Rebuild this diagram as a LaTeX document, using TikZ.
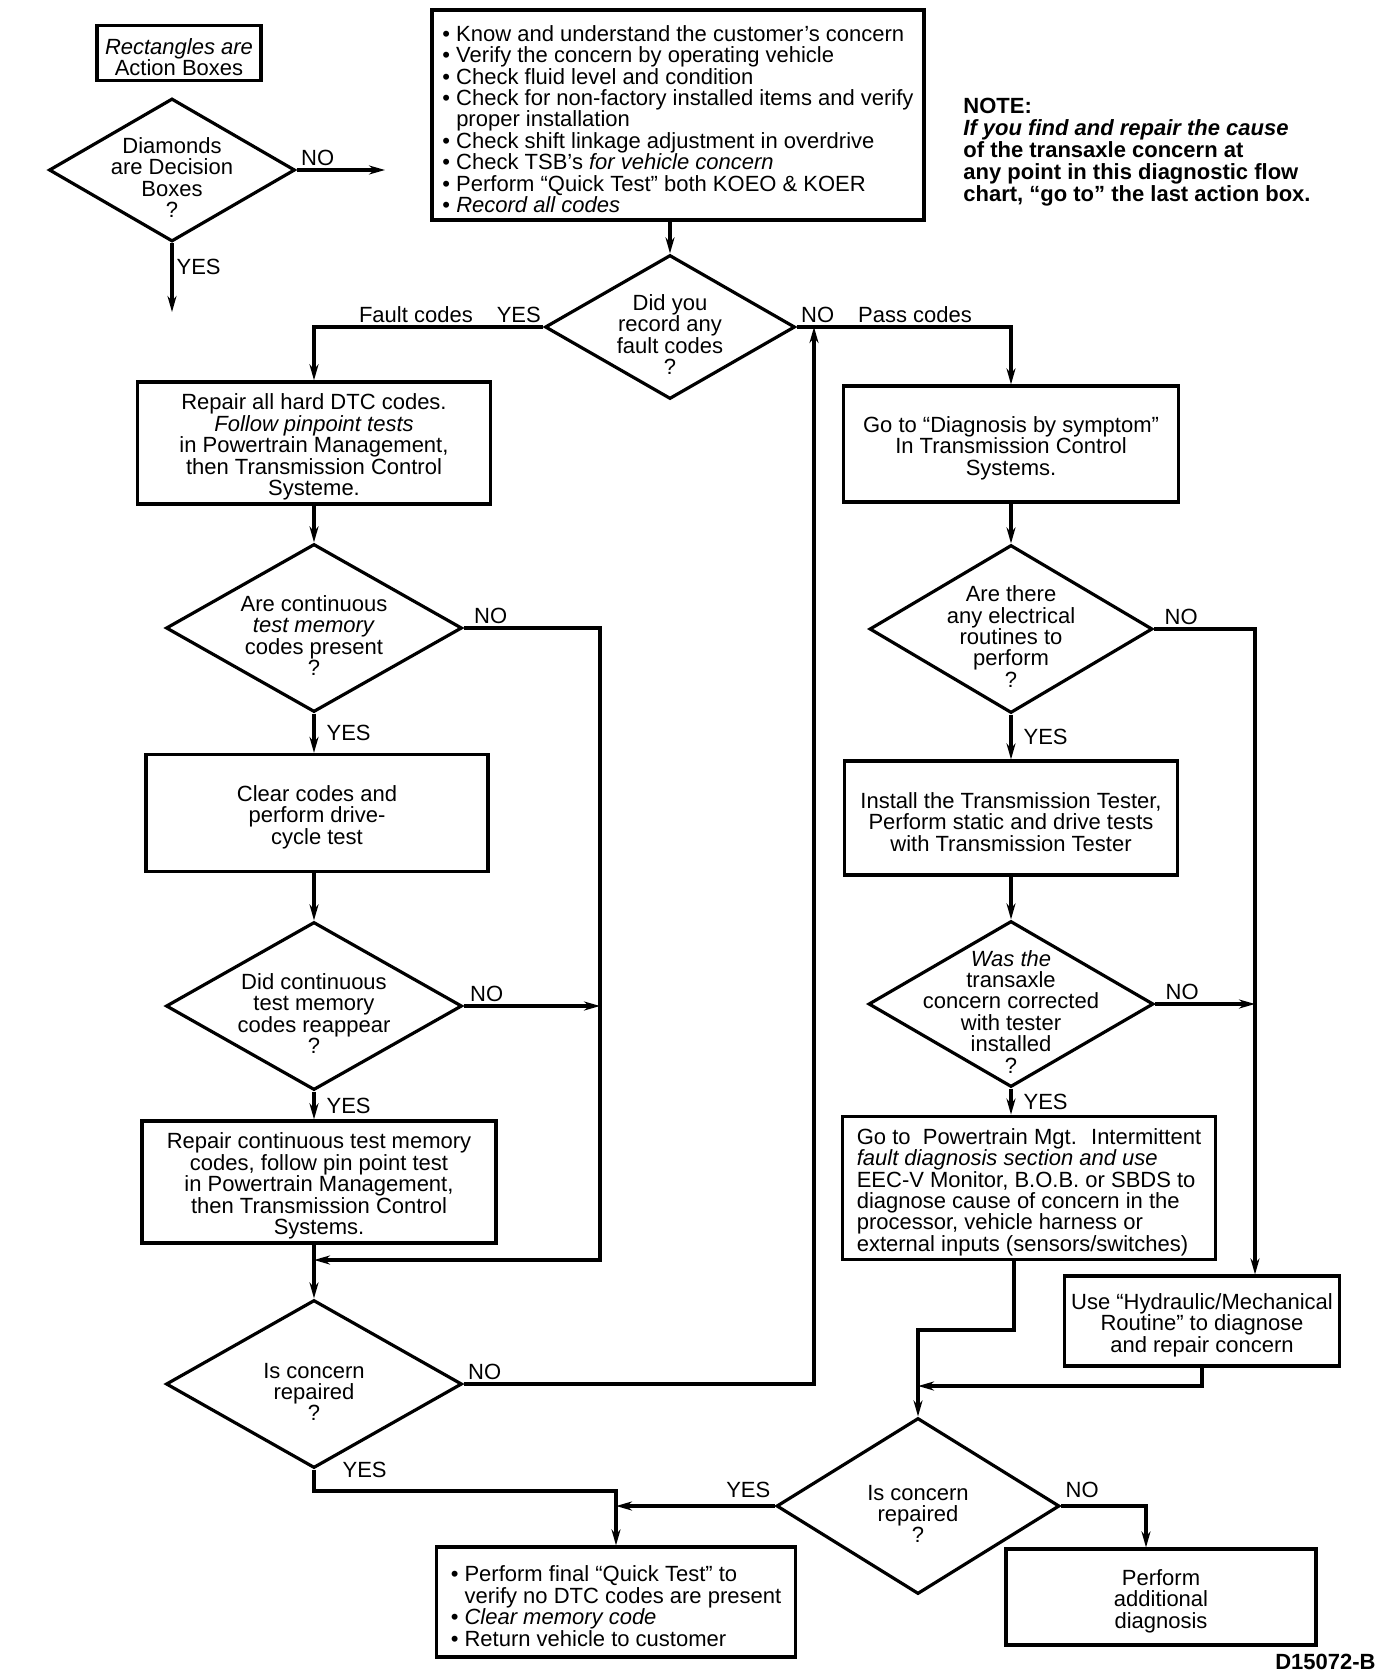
\documentclass[tikz,border=0pt]{standalone}
\usepackage{fontspec}
\setmainfont{Liberation Sans}
\usetikzlibrary{shapes, arrows, arrows.meta}
\newcommand{\dtop}{\rule{0pt}{15.5pt}}
\newcommand{\btop}{\rule{0pt}{12pt}}
\tikzstyle{statement} = [rectangle, draw=black, line width=1.6pt, align=center, inner sep=2pt, font=\fontsize{11}{10.7}\selectfont]
\tikzstyle{decision} = [diamond, draw=black, line width=1.6pt, align=center, aspect=1.7, inner sep=-14pt, minimum width=148pt, minimum height=84pt, font=\fontsize{11}{10.7}\selectfont]
\tikzstyle{lbl} = [inner sep=1.5pt, font=\fontsize{11}{11}\selectfont]
\tikzstyle{edge} = [line width=1.6pt, ->, >={Stealth[length=8pt, width=4.5pt]}]

\begin{document}
\begin{tikzpicture}[x=0.5pt, y=-0.5pt, node distance=92.5pt]
\useasboundingbox (0,0) rectangle (1392,1674);

% legend
\node (l0) [statement, minimum width=82pt, minimum height=27.5pt] at (179,53) {\btop\textit{Rectangles are}\\Action Boxes};
\node (l1) [decision, minimum width=123pt, minimum height=71.5pt] at (172,170) {\dtop Diamonds\\are Decision\\Boxes\\?};
\coordinate (l2) at (385,170);
\coordinate (l3) at (172,312);

% start
\node (0) [statement, align=left, minimum width=246pt, minimum height=105pt] at (678,115) {\btop\textbullet\ Know and understand the customer’s concern\\\textbullet\ Verify the concern by operating vehicle\\\textbullet\ Check fluid level and condition\\\textbullet\ Check for non-factory installed items and verify\\\phantom{\textbullet\ }proper installation\\\textbullet\ Check shift linkage adjustment in overdrive\\\textbullet\ Check TSB’s \textit{for vehicle concern}\\\textbullet\ Perform “Quick Test” both KOEO \& KOER\\\textbullet\ \textit{Record all codes}};
\node (note) [anchor=north west, inner sep=0pt, align=left, font=\bfseries\fontsize{11}{11}\selectfont] at (963,98) {NOTE:\\\textit{If you find and repair the cause}\\of the transaxle concern at\\any point in this diagnostic flow\\chart, “go to” the last action box.};
\node (1) [decision, minimum width=125pt, minimum height=72pt] at (670,327) {\dtop Did you\\record any\\fault codes\\?};

% fault codes
\node (2) [statement, minimum width=176.5pt, minimum height=60.5pt] at (314,443) {\btop Repair all hard DTC codes.\\\textit{Follow pinpoint tests}\\in Powertrain Management,\\then Transmission Control\\Systeme.};
\node (3) [decision, below of=2] {\dtop Are continuous\\\textit{test memory}\\codes present\\?};
\node (4) [statement, below of=3, xshift=1.5pt, minimum width=171pt, minimum height=58.5pt] {\btop Clear codes and\\perform drive-\\cycle test};
\node (5) [decision, below of=4, xshift=-1.5pt, yshift=-4pt] {\dtop Did continuous\\test memory\\codes reappear\\?};
\node (6) [statement, below of=5, xshift=2.5pt, yshift=4.5pt, minimum width=177pt, minimum height=61pt] {\btop Repair continuous test memory\\codes, follow pin point test\\in Powertrain Management,\\then Transmission Control\\Systems.};
\node (7) [decision, below of=6, xshift=-2.5pt, yshift=-8.5pt] {\dtop Is concern\\repaired\\?};

% pass codes
\node (8) [statement, minimum width=167.5pt, minimum height=58pt] at (1011,444) {\btop Go to “Diagnosis by symptom”\\In Transmission Control\\Systems.};
\node (9) [decision, below of=8, minimum width=141.5pt] {\dtop Are there\\any electrical\\routines to\\perform\\?};
\node (10) [statement, below of=9, yshift=-2pt, minimum width=166.5pt, minimum height=57pt] {\btop Install the Transmission Tester,\\Perform static and drive tests\\with Transmission Tester};
\node (11) [decision, below of=10, yshift=-0.5pt, minimum width=142.5pt, minimum height=83pt] {\dtop\textit{Was the}\\transaxle\\concern corrected\\with tester\\installed\\?};
\node (12) [statement, align=left, below of=11, xshift=9pt, yshift=0.5pt, minimum width=186.5pt, minimum height=71pt] {\btop Go to \ Powertrain Mgt. \ Intermittent\\\textit{fault diagnosis section and use}\\EEC-V Monitor, B.O.B. or SBDS to\\diagnose cause of concern in the\\processor, vehicle harness or\\external inputs (sensors/switches)};
\node (13) [statement, minimum width=137.5pt, minimum height=45pt] at (1202,1321) {\btop Use “Hydraulic/Mechanical\\Routine” to diagnose\\and repair concern};
\node (14) [decision, minimum width=141.5pt, minimum height=88pt] at (918,1506) {\dtop Is concern\\repaired\\?};

% end
\node (15) [statement, align=left, minimum width=179.5pt, minimum height=55pt] at (616,1602) {\btop\textbullet\ Perform final “Quick Test” to\\\phantom{\textbullet\ }verify no DTC codes are present\\\textbullet\ \textit{Clear memory code}\\\textbullet\ Return vehicle to customer};
\node (16) [statement, minimum width=155pt, minimum height=48pt] at (1161,1597) {\btop Perform\\additional\\diagnosis};
\node (id) [anchor=south east, inner sep=0pt, font=\bfseries\fontsize{11}{11}\selectfont] at (1376,1670) {D15072-B};

\coordinate (c1) at (600,1260);
\coordinate (c2) at (814,327);
\coordinate (c3) at (918,1330);
\coordinate (c4) at (918,1386);
\coordinate (c5) at (1255,630);
\coordinate (c6) at (616,1491);

\draw [edge] (l1.east) -- node[lbl, pos=0, above right] {NO} (l2);
\draw [edge] (l1.south) -- node[lbl, pos=0.35, right] {YES} (l3);

\draw [edge] (0.south -| 1.north) -- (1.north);
\draw [edge] (1.west) -| node[lbl, pos=0, anchor=south east, xshift=1pt] {Fault codes\hspace{12pt}YES} (2.north);
\draw [edge] (1.east) -| node[lbl, pos=0, anchor=south west] {NO\hspace{12pt}Pass codes} (8.north);

\draw [edge] (2.south) -- (3.north);
\draw [edge] (3.south) -- node[lbl, right, xshift=4pt] {YES} (3.south |- 4.north);
\draw [edge] (4.south -| 5.north) -- (5.north);
\draw [edge] (5.south) -- node[lbl, right, xshift=4pt] {YES} (5.south |- 6.north);
\draw [edge] (6.south -| 7.north) -- (7.north);
\draw [edge] (3.east) -- node[lbl, pos=0, above right, xshift=3pt] {NO} (3.east -| c1) -- (c1) -- (7.north |- c1);
\draw [edge] (5.east) -- node[lbl, pos=0, above right, xshift=1pt] {NO} (5.east -| c1);
\draw [edge] (7.east) -| node[lbl, pos=0, above right] {NO} (c2);
\draw [edge] (7.south) |- node[lbl, pos=0, right, xshift=12pt] {YES} (c6) -- (15.north);

\draw [edge] (8.south) -- (9.north);
\draw [edge] (9.south) -- node[lbl, right, xshift=4pt] {YES} (10.north);
\draw [edge] (10.south) -- (11.north);
\draw [edge] (11.south) -- node[lbl, right, xshift=4pt] {YES} (11.south |- 12.north);
\draw [edge] (9.east) -- node[lbl, pos=0, above right, xshift=3pt] {NO} (9.east -| c5) -- (13.north -| c5);
\draw [edge] (11.east) -- node[lbl, pos=0, above right, xshift=3pt] {NO} (11.east -| c5);
\draw [edge] ([xshift=-7.5pt]12.south) |- (c3) -- (14.north);
\draw [edge] (13.south) |- (c4);
\draw [edge] (14.west) -- node[lbl, pos=0, above left, yshift=2pt] {YES} (14.west -| 15.north);
\draw [edge] (14.east) -| node[lbl, pos=0, above right, yshift=2pt] {NO} ([xshift=-7.5pt]16.north);

\end{tikzpicture}
\end{document}
